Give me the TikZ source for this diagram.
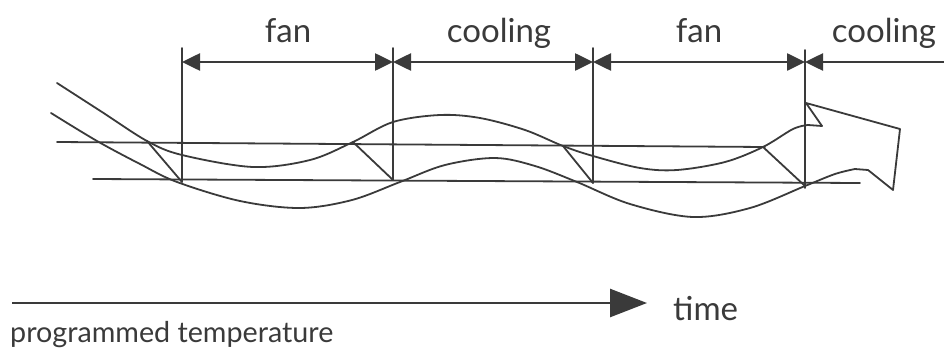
\documentclass[tikz,border=0pt]{standalone}
\usepackage{fontspec}
\setmainfont{Lato}
\usetikzlibrary{arrows.meta}
\definecolor{ink}{HTML}{3A3A3A}
\begin{document}
\begin{tikzpicture}[x=1pt,y=-1pt,
  ln/.style={draw=ink, line width=1.8pt, line join=round, line cap=round},
  dimline/.style={draw=ink, line width=2.6pt},
  tipL/.style={{Triangle[length=18pt,width=17pt]}-},
  tipR/.style={-{Triangle[length=18pt,width=17pt]}},
  tipLR/.style={{Triangle[length=18pt,width=17pt]}-{Triangle[length=18pt,width=17pt]}},
  lbl/.style={text=ink, anchor=base, inner sep=0pt, font=\fontsize{33}{36}\selectfont},
  small/.style={text=ink, anchor=base west, inner sep=0pt, font=\fontsize{28.7}{32}\selectfont},
  timelbl/.style={text=ink, anchor=base west, inner sep=0pt, font=\fontsize{33}{36}\selectfont}]
\useasboundingbox (0,0) rectangle (944,356);

% vertical markers
\coordinate (v1t) at (182,48); \coordinate (v1b) at (182,182);
\coordinate (v2t) at (393,48); \coordinate (v2b) at (393,180);
\coordinate (v3t) at (593,48); \coordinate (v3b) at (593,183);
\coordinate (v4t) at (805,50); \coordinate (v4b) at (805,188);
\draw[ln] (v1t) -- (v1b);
\draw[ln] (v2t) -- (v2b);
\draw[ln] (v3t) -- (v3b);
\draw[ln] (v4t) -- (v4b);

% dimension arrows
\coordinate (d1) at (182,62); \coordinate (d2) at (393,62);
\coordinate (d3) at (593,62); \coordinate (d4) at (805,62);
\coordinate (d5) at (944,62);
\draw[dimline, tipLR] (d1) -- (d2);
\draw[dimline, tipLR] (d2) -- (d3);
\draw[dimline, tipLR] (d3) -- (d4);
\draw[dimline, tipL] (d4) -- (d5);

\node[lbl] (fanA) at (288,42) {fan};
\node[lbl] (coolA) at (499,42) {cooling};
\node[lbl] (fanB) at (699,42) {fan};
\node[lbl] (coolB) at (884,42) {cooling};

% horizontal reference lines
\coordinate (h1a) at (57,142); \coordinate (h1b) at (765,147);
\coordinate (h2a) at (93,179); \coordinate (h2b) at (860,183);
\draw[ln] (h1a) -- (h1b);
\draw[ln] (h2a) -- (h2b);

% diagonals
\draw[ln] (147,141) -- (v1b);
\draw[ln] (353,142) -- (v2b);
\draw[ln] (563,146) -- (v3b);
\draw[ln] (763,147) -- (805,186);

% upper wave
\draw[ln] plot[smooth, tension=0.55] coordinates {
  (57,83) (102,112) (147,141) (182,155) (253,167) (310,160) (353,142)
  (393,122) (440,115) (480,118) (525,130) (563,146) (593,156) (640,168) (677,170)
  (725,162) (763,147) (793,129) (808,125)} -- (822,126);

% lower wave
\draw[ln] plot[smooth, tension=0.55] coordinates {
  (51,113) (97,141) (140,164) (177,182) (240,201) (300,208) (352,200) (400,182)
  (445,165) (495,158) (535,166) (577,182) (630,204) (693,217) (750,208) (805,186)
  (835,174) (855,169)} -- (868,170);

% arrow head
\draw[ln] (822,126) -- (806,103) -- (900,129) -- (893,190) -- (868,170);

% time axis
\coordinate (ta) at (12,303); \coordinate (tb) at (647,303);
\draw[draw=ink, line width=2.6pt, -{Triangle[length=37pt,width=28pt]}] (ta) -- (tb);
\node[timelbl] (time) at (673,320) {time};
\node[small] (prog) at (10,342) {programmed temperature};
\end{tikzpicture}
\end{document}
